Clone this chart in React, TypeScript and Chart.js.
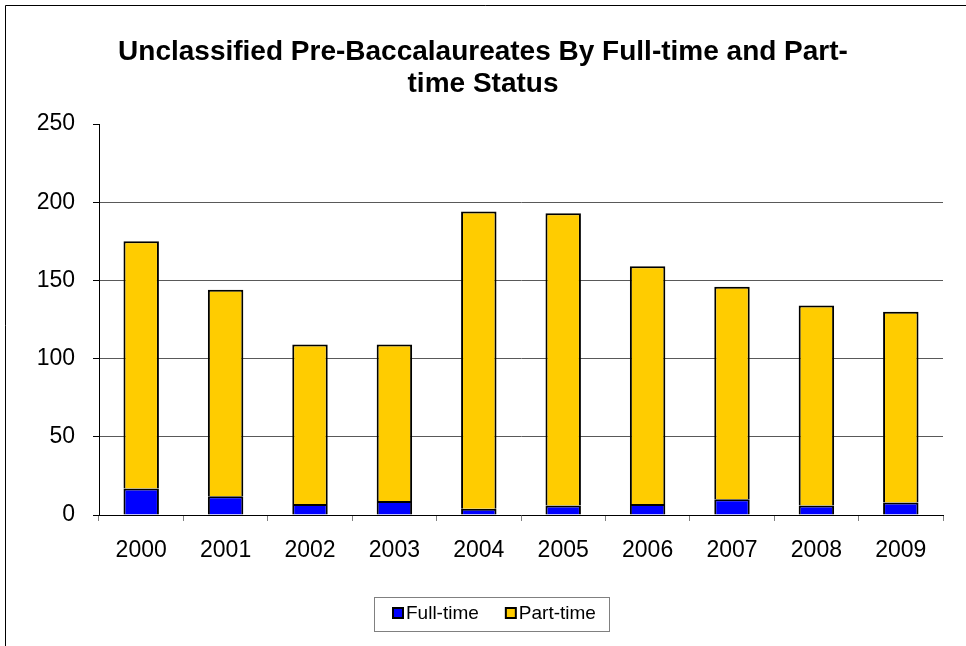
import React, { useEffect, useRef } from "react";
import { Chart, registerables } from "chart.js";

Chart.register(...registerables);

const years = ["2000", "2001", "2002", "2003", "2004", "2005", "2006", "2007", "2008", "2009"];
const fullTime = [17, 12, 7, 9, 4, 6, 7, 10, 6, 8];
const partTime = [158, 132, 102, 100, 190, 187, 152, 136, 128, 122];
const titleLines = ["Unclassified Pre-Baccalaureates By Full-time and Part-", "time Status"];
const FONT = "Arial, 'Liberation Sans', sans-serif";

const framePlugin = {
  id: "frame",
  beforeDraw(chart: any) {
    const c = chart.ctx;
    c.save();
    c.fillStyle = "#ffffff";
    c.fillRect(0, 0, chart.width, chart.height);
    c.strokeStyle = "#000000";
    c.lineWidth = 1;
    c.beginPath();
    c.moveTo(5.5, chart.height);
    c.lineTo(5.5, 5.5);
    c.lineTo(chart.width, 5.5);
    c.stroke();
    c.restore();
  },
  afterDraw(chart: any) {
    // custom legend below the x axis
    const c = chart.ctx;
    c.save();
    c.font = "19px " + FONT;
    c.textBaseline = "middle";
    c.textAlign = "left";
    const box = 10;
    const gapText = 3;
    const gapItem = 27;
    const items = chart.data.datasets.map((ds: any) => ({
      label: ds.label,
      color: ds.backgroundColor,
      w: box + gapText + c.measureText(ds.label).width,
    }));
    const total = items.reduce((s: number, it: any) => s + it.w, 0) + gapItem * (items.length - 1);
    const cy = 614;
    let x = Math.round(chart.width / 2 + 11 - total / 2);
    const startX = x;
    for (const it of items) {
      c.fillStyle = it.color;
      c.fillRect(x, cy - box / 2 - 1, box, box);
      c.strokeStyle = "#000000";
      c.lineWidth = 2;
      c.strokeRect(x, cy - box / 2 - 1, box, box);
      c.fillStyle = "#000000";
      c.fillText(it.label, x + box + gapText, cy);
      x += it.w + gapItem;
    }
    const endX = x - gapItem;
    c.strokeStyle = "#808080";
    c.lineWidth = 1;
    const x0 = Math.round(startX - 19) + 0.5;
    const x1 = Math.round(endX + 13) + 0.5;
    c.strokeRect(x0, 597.5, x1 - x0, 34);
    c.restore();
  },
};

export default function App() {
  const ref = useRef<HTMLCanvasElement>(null);
  useEffect(() => {
    if (!ref.current) return;
    const chart = new Chart(ref.current, {
      type: "bar",
      data: {
        labels: years,
        datasets: [
          {
            label: "Full-time",
            data: fullTime,
            backgroundColor: "#0000FF",
            borderColor: "#000000",
            borderWidth: 2,
            categoryPercentage: 1,
            barPercentage: 0.42,
          },
          {
            label: "Part-time",
            data: partTime,
            backgroundColor: "#FFCC00",
            borderColor: "#000000",
            borderWidth: 2,
            categoryPercentage: 1,
            barPercentage: 0.42,
          },
        ],
      },
      options: {
        responsive: false,
        animation: false,
        devicePixelRatio: 1,
        layout: { padding: { left: 23, right: 23, top: 0, bottom: 81 } },
        plugins: {
          title: {
            display: true,
            text: titleLines,
            color: "#000000",
            font: { family: FONT, size: 28, weight: "bold", lineHeight: 1.125 },
            padding: { top: 37, bottom: 24 },
          },
          legend: { display: false },
          tooltip: { enabled: false },
        },
        scales: {
          x: {
            stacked: true,
            offset: true,
            afterFit: (scale: any) => {
              scale.height = 50;
            },
            grid: {
              display: true,
              drawOnChartArea: false,
              drawTicks: true,
              tickLength: 6,
              tickColor: "#808080",
              offset: true,
            },
            border: { display: true, color: "#000000", width: 1 },
            ticks: { color: "#000000", font: { family: FONT, size: 23 }, padding: 16, maxRotation: 0 },
          },
          y: {
            stacked: true,
            min: 0,
            max: 250,
            afterFit: (scale: any) => {
              scale.width = 76;
            },
            grid: {
              color: (ctx: any) => (ctx.tick && (ctx.tick.value === 250 || ctx.tick.value === 0) ? "rgba(0,0,0,0)" : "#595959"),
              tickColor: "#000000",
              tickLength: 6,
            },
            border: { display: true, color: "#000000", width: 1 },
            ticks: { stepSize: 50, color: "#000000", font: { family: FONT, size: 23 }, padding: 18 },
          },
        },
      },
      plugins: [framePlugin],
    });
    return () => chart.destroy();
  }, []);
  return (
    <div style={{ position: "absolute", left: 0, top: 0, width: 966, height: 646 }}>
      <canvas ref={ref} width={966} height={646} style={{ display: "block" }} />
    </div>
  );
}
